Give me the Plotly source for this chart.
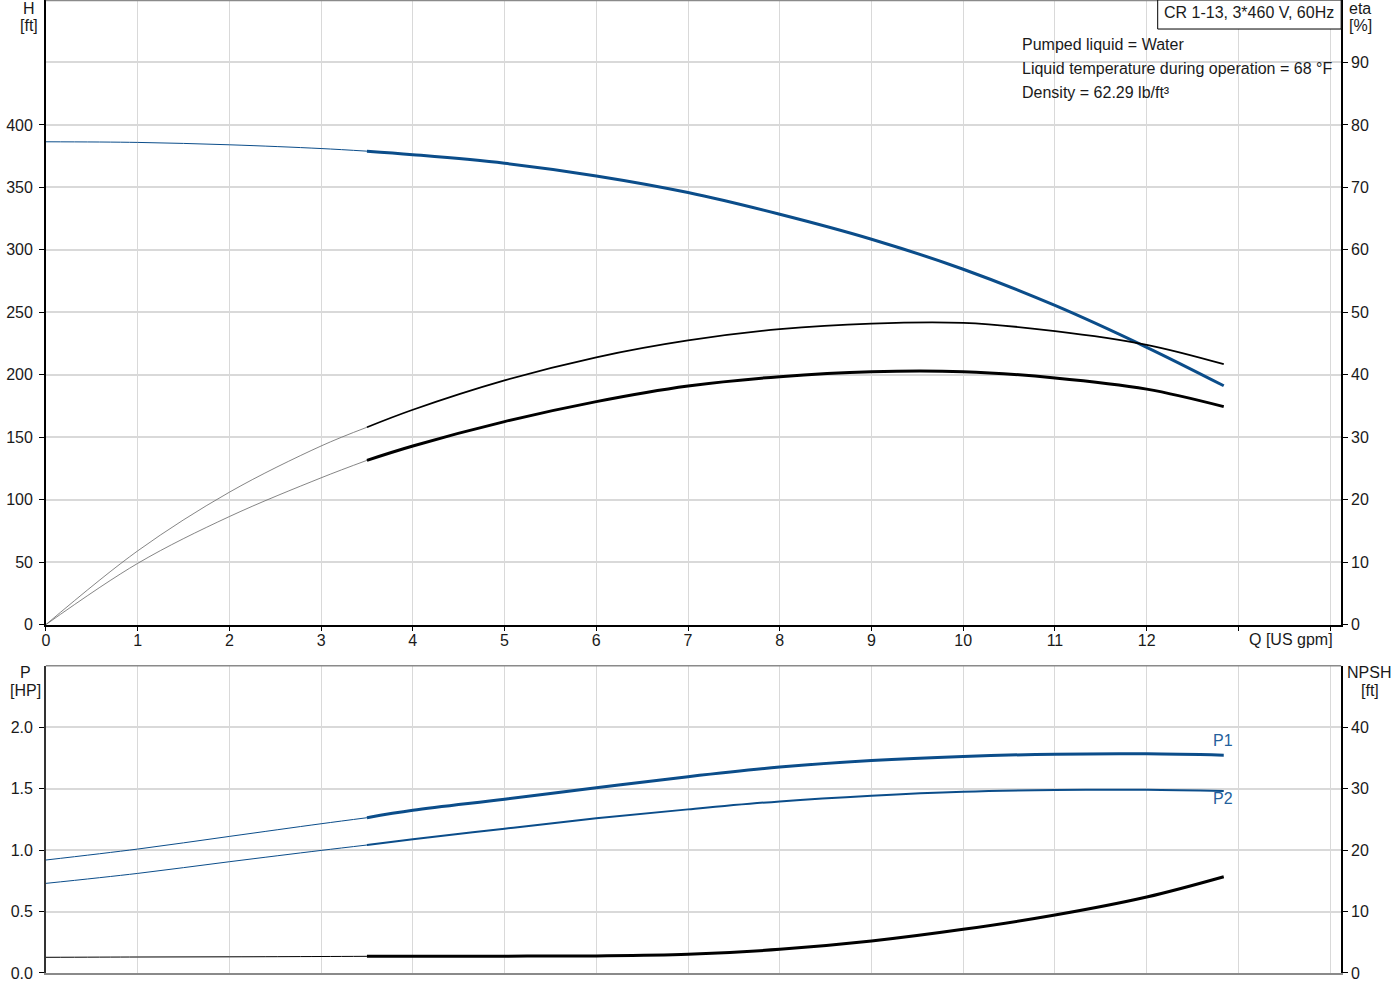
"""
Pump performance curves for CR 1-13: head/efficiency on top, power/NPSH below.
"""

import plotly.graph_objects as go

# Flow rate (US gpm), split into the thin start-up part and the operating part
q_low = [0, 1, 2, 3, 3.5]
q_high = [3.5, 4, 5, 6, 7, 8, 9, 10, 11, 12, 12.84]

# Head H [ft]
head_low = [386.5, 386.0, 384.1, 381.1, 379.0]
head_high = [379.0, 376.2, 369.3, 359.2, 345.9, 328.5, 308.5, 284.5, 255.5, 222.0, 191.2]

# Efficiencies eta [%]
eta_a_low = [0, 11.8, 21.2, 28.6, 31.6]
eta_a_high = [31.6, 34.4, 39.1, 42.8, 45.5, 47.3, 48.2, 48.3, 47.0, 44.8, 41.7]
eta_b_low = [0, 9.8, 17.3, 23.5, 26.3]
eta_b_high = [26.3, 28.6, 32.5, 35.7, 38.2, 39.7, 40.5, 40.5, 39.5, 37.7, 34.9]

# Power P1 / P2 [HP]
p1_low = [0.919, 1.008, 1.111, 1.214, 1.263]
p1_high = [1.263, 1.323, 1.413, 1.507, 1.597, 1.675, 1.729, 1.762, 1.780, 1.783, 1.772]
p2_low = [0.729, 0.810, 0.905, 0.997, 1.041]
p2_high = [1.041, 1.087, 1.174, 1.258, 1.331, 1.396, 1.442, 1.474, 1.488, 1.490, 1.480]

# NPSH [ft]
npsh_low = [2.55, 2.60, 2.63, 2.68, 2.71]
npsh_high = [2.71, 2.72, 2.74, 2.78, 3.04, 3.85, 5.2, 7.1, 9.43, 12.36, 15.66]

q_ticks = list(range(0, 15))
q_ticktext = [str(v) if v <= 12 else "" for v in q_ticks]
h_ticks = [0, 50, 100, 150, 200, 250, 300, 350, 400]
eta_ticks = [0, 10, 20, 30, 40, 50, 60, 70, 80, 90]
p_ticks = [0, 0.5, 1.0, 1.5, 2.0]
p_ticktext = ["0.0", "0.5", "1.0", "1.5", "2.0"]
npsh_ticks = [0, 10, 20, 30, 40]

info_lines = [
    "Pumped liquid = Water",
    "Liquid temperature during operation = 68 °F",
    "Density = 62.29 lb/ft³",
]

BLUE = "#0b4d8a"
LABEL_BLUE = "#235f9c"
W, H = 1400, 1000
SY = 1 / 0.99  # the photographed page comes out slightly squashed vertically
FONT = "Arial, Liberation Sans, sans-serif"
FS = 16


def px_x(v):
    return v / W


def px_y(v):
    return 1 - v * SY / H


XD = [px_x(42), px_x(1341)]
XR = [0, 14.12]

fig = go.Figure()


def curve(x, y, xa, ya, color, width):
    fig.add_trace(
        go.Scatter(
            x=x, y=y, xaxis=xa, yaxis=ya, mode="lines",
            line=dict(color=color, width=width, shape="spline"),
            hoverinfo="skip",
        )
    )


# top panel
curve(q_low, eta_a_low, "x", "y2", "#666666", 0.8)
curve(q_low, eta_b_low, "x", "y2", "#666666", 0.8)
curve(q_high, eta_a_high, "x", "y2", "black", 1.8)
curve(q_high, eta_b_high, "x", "y2", "black", 3)
curve(q_low, head_low, "x", "y", BLUE, 1)
curve(q_high, head_high, "x", "y", BLUE, 3)

# bottom panel
curve(q_low, p1_low, "x2", "y3", BLUE, 1)
curve(q_high, p1_high, "x2", "y3", BLUE, 3)
curve(q_low, p2_low, "x2", "y3", BLUE, 1)
curve(q_high, p2_high, "x2", "y3", BLUE, 2)
curve(q_low, npsh_low, "x2", "y4", "black", 1)
curve(q_high, npsh_high, "x2", "y4", "black", 3)

tick_font = dict(family=FONT, size=FS, color="#1a1a1a")
grid = "#d9d9d9"

fig.update_layout(
    width=W, height=H,
    margin=dict(l=0, r=0, t=0, b=0),
    paper_bgcolor="white", plot_bgcolor="white",
    showlegend=False,
    font=tick_font,
    xaxis=dict(
        domain=XD, range=XR, anchor="y", tickvals=q_ticks, ticktext=q_ticktext,
        ticks="outside", ticklen=4, tickcolor="black", showgrid=True, gridcolor=grid,
        showline=True, linecolor="black", linewidth=2, zeroline=False, tickfont=tick_font,
        ticklabelstandoff=-4,
    ),
    yaxis=dict(
        domain=[px_y(624), 1], range=[0, 500], anchor="x", tickvals=h_ticks,
        ticks="outside", ticklen=5, tickcolor="black", showgrid=False,
        showline=True, linecolor="black", linewidth=1.5, zeroline=False, tickfont=tick_font,
        ticklabelstandoff=3,
    ),
    yaxis2=dict(
        overlaying="y", side="right", anchor="x", range=[0, 100], tickvals=eta_ticks,
        ticks="outside", ticklen=5, tickcolor="black", showgrid=True, gridcolor=grid,
        gridwidth=1.5, showline=True, linecolor="black", linewidth=1.5, zeroline=False,
        tickfont=tick_font,
    ),
    xaxis2=dict(
        domain=XD, range=XR, anchor="y3", tickvals=q_ticks, showticklabels=False,
        ticks="", showgrid=True, gridcolor=grid, showline=True, linecolor="#8a8a8a",
        linewidth=1.5, zeroline=False,
    ),
    yaxis3=dict(
        domain=[px_y(972), px_y(665)], range=[0, 2.5], anchor="x2", tickvals=p_ticks,
        ticktext=p_ticktext, ticks="outside", ticklen=5, tickcolor="black", showgrid=False,
        showline=True, linecolor="#333333", linewidth=1.5, zeroline=False, tickfont=tick_font,
        ticklabelstandoff=3,
    ),
    yaxis4=dict(
        overlaying="y3", side="right", anchor="x2", range=[0, 50], tickvals=npsh_ticks,
        ticks="outside", ticklen=5, tickcolor="black", showgrid=True, gridcolor=grid,
        gridwidth=1.5, showline=True, linecolor="black", linewidth=1.5, zeroline=False,
        tickfont=tick_font,
    ),
)

# panel borders (grey top edges)
fig.add_shape(type="line", xref="paper", yref="paper", x0=px_x(42), x1=px_x(1157),
              y0=px_y(0.5), y1=px_y(0.5), line=dict(color="#8a8a8a", width=1.5))
fig.add_shape(type="line", xref="paper", yref="paper", x0=px_x(42), x1=px_x(1341),
              y0=px_y(665), y1=px_y(665), line=dict(color="#8a8a8a", width=1.5))

# white background behind the liquid info, then the title box
fig.add_shape(type="rect", xref="paper", yref="paper", layer="between",
              x0=px_x(1012), x1=px_x(1340), y0=px_y(107), y1=px_y(30),
              fillcolor="white", line=dict(width=0))
fig.add_shape(type="rect", xref="paper", yref="paper",
              x0=px_x(1157), x1=px_x(1341), y0=px_y(29), y1=px_y(0),
              fillcolor="white", line=dict(color="black", width=1))


def label(text, x, y, xanchor="center", color="#1a1a1a"):
    fig.add_annotation(text=text, x=px_x(x), y=px_y(y), xref="paper", yref="paper",
                       xanchor=xanchor, yanchor="middle", showarrow=False,
                       font=dict(family=FONT, size=FS, color=color))


label("CR 1-13, 3*460 V, 60Hz", 1249, 12)
for i, line in enumerate(info_lines):
    label(line, 1019, 44 + 24 * i, xanchor="left")

label("H", 25, 8)
label("[ft]", 25, 25)
label("eta", 1360, 8)
label("[%]", 1360, 25)
label("P", 22, 672)
label("[HP]", 22, 690)
label("NPSH", 1369, 672)
label("[ft]", 1370, 690)
label("Q [US gpm]", 1335, 639, xanchor="right")
label("P1", 1222, 740, color=LABEL_BLUE)
label("P2", 1222, 798, color=LABEL_BLUE)

fig.write_html(
    "out.html",
    config={"displayModeBar": False},
    post_script="document.body.style.margin='0px';",
)
